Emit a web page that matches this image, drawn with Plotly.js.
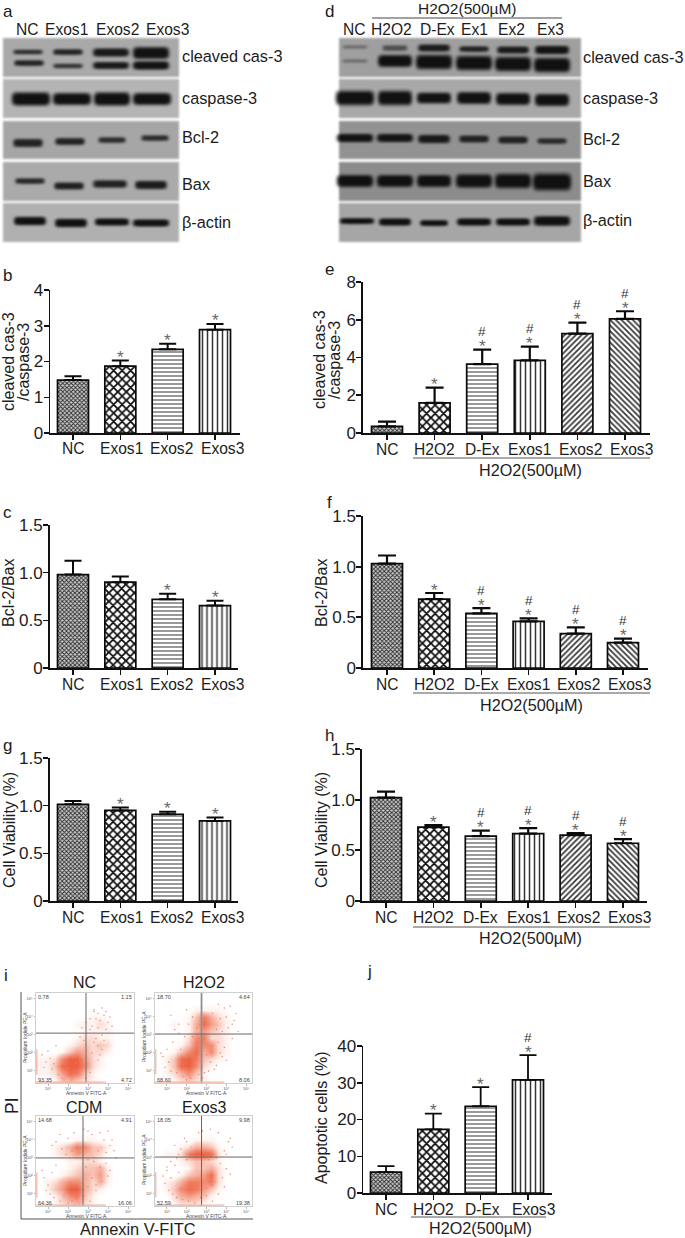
<!DOCTYPE html>
<html><head><meta charset="utf-8">
<script src="https://cdn.plot.ly/plotly-3.0.1.min.js"></script>
<style>html,body{margin:0;padding:0;background:#fff}
.layer-below .shapelayer{filter:blur(0.9px)}</style></head>
<body><div id="chart" style="width:685px;height:1238px"></div>
<script>
// ---------- data ----------
var labels4 = ['NC','Exos1','Exos2','Exos3'];
var labels6 = ['NC','H2O2','D-Ex','Exos1','Exos2','Exos3'];
var labelsJ = ['NC','H2O2','D-Ex','Exos3'];

var valuesB = [1.48,1.87,2.34,2.89];       var errTopB = [1.59,2.03,2.50,3.05];
var starsB  = ['','*','*','*'];
var valuesC = [0.98,0.90,0.72,0.655];      var errTopC = [1.125,0.96,0.78,0.705];
var starsC  = ['','','*','*'];
var valuesG = [1.015,0.95,0.91,0.84];      var errTopG = [1.05,0.98,0.935,0.875];
var starsG  = ['','*','*','*'];
var valuesE = [0.35,1.60,3.65,3.85,5.27,6.05]; var errTopE = [0.60,2.40,4.42,4.58,5.85,6.45];
var starsE  = ['','*','*#','*#','*#','*#'];
var valuesF = [1.03,0.68,0.54,0.46,0.34,0.25]; var errTopF = [1.11,0.74,0.59,0.49,0.40,0.29];
var starsF  = ['','*','*#','*#','*#','*#'];
var valuesH = [1.02,0.73,0.64,0.665,0.65,0.57]; var errTopH = [1.08,0.75,0.695,0.72,0.67,0.61];
var starsH  = ['','*','*#','*#','*#','*#'];
var valuesJ = [5.7,17.3,23.6,30.8];        var errTopJ = [7.3,21.6,28.8,37.5];
var starsJ  = ['','*','*','*#'];

var blotNamesA = ['cleaved cas-3','caspase-3','Bcl-2','Bax','β-actin'];
var blotLanesA = ['NC','Exos1','Exos2','Exos3'];
var blotLanesD = ['NC','H2O2','D-Ex','Ex1','Ex2','Ex3'];
// band intensity per lane, read by eye (0..1)
var bandsAcleavedUpper = [0.6,0.7,0.85,0.95];
var bandsAcleavedLower = [0.7,0.55,0.85,0.95];
var bandsAcaspase      = [1,1,1,1];
var bandsABcl          = [0.7,0.7,0.6,0.6];
var bandsABax          = [0.65,0.75,0.75,0.8];
var bandsAactin        = [1,1,1,1];
var bandsDcleavedUpper = [0.2,0.35,0.8,0.7,0.8,0.95];
var bandsDcleavedLower = [0.2,1,1,1,1,1];
var bandsDcaspase      = [1,1,1,1,1,1];
var bandsDBcl          = [0.95,0.9,0.85,0.7,0.7,0.6];
var bandsDBax          = [1,1,1,1,1,1];
var bandsDactin        = [1,1,1,1,1,1];

// Annexin/PI event density, estimated per decade cell (0..9), top row first
var flowX = [0.59,0.97,1.34,1.72,2.10,2.47,2.85,3.23,3.60,3.98,4.36,4.73,5.11];
var flowY = [5.14,4.76,4.37,3.99,3.60,3.22,2.83,2.45,2.06,1.68,1.29,0.91,0.52];
var flowNC = [
 [0,0,0,0,0,0,0,0,0,0,0,0,0],[0,0,0,0,0,0,0,0,0,0,0,0,0],[0,0,0,0,0,0,0,0,0,0,0,0,0],
 [0,0,0,0,0,0,0,1,1,0,0,0,0],[0,0,0,0,0,1,1,1,2,1,0,0,0],[0,0,0,0,0,0,1,1,1,1,0,0,0],
 [0,0,0,0,0,1,2,2,1,1,0,0,0],[0,0,0,0,1,2,3,2,3,2,0,0,0],[0,0,0,1,3,5,4,2,2,1,0,0,0],
 [1,1,2,6,9,9,5,2,1,0,0,0,0],[1,1,3,8,9,9,6,2,1,0,0,0,0],[1,1,2,5,8,7,3,1,0,0,0,0,0],
 [0,0,1,3,4,3,2,1,0,0,0,0,0]];
var flowH2O2 = [
 [0,0,0,0,0,0,0,0,0,0,0,0,0],[0,0,0,0,0,0,0,0,0,0,0,0,0],[0,0,0,0,0,1,1,1,1,0,0,0,0],
 [0,0,0,0,1,3,7,4,2,1,0,0,0],[0,0,1,0,1,4,8,5,3,1,0,0,0],[0,0,0,0,1,4,5,3,2,1,0,0,0],
 [0,0,0,0,2,6,7,2,2,1,0,0,0],[0,0,0,1,3,7,6,6,2,1,0,0,0],[0,0,1,3,6,8,4,6,2,1,0,0,0],
 [0,1,3,8,9,7,3,2,1,0,0,0,0],[0,1,3,8,9,6,2,1,0,0,0,0,0],[0,1,2,4,6,3,1,0,0,0,0,0,0],
 [0,0,1,2,3,2,1,0,0,0,0,0,0]];
var flowCDM = [
 [0,0,0,0,0,0,0,0,0,0,0,0,0],[0,0,0,0,0,0,0,0,0,0,0,0,0],[0,0,0,0,0,0,0,0,0,0,0,0,0],
 [0,0,0,0,0,1,1,1,0,0,0,0,0],[0,0,1,2,4,7,6,3,3,1,0,0,0],[0,0,1,2,3,5,4,3,2,0,0,0,0],
 [0,0,0,0,1,1,2,2,1,0,0,0,0],[0,0,0,0,1,2,3,3,4,1,0,0,0],[0,0,0,1,2,3,4,3,5,1,0,0,0],
 [0,1,2,4,6,6,4,2,4,1,0,0,0],[0,1,3,5,9,9,4,2,1,0,0,0,0],[0,0,1,3,6,7,3,1,0,0,0,0,0],
 [0,0,1,2,3,4,2,1,0,0,0,0,0]];
var flowExos3 = [
 [0,0,0,0,0,0,0,0,0,0,0,0,0],[0,0,0,0,0,0,0,0,0,0,0,0,0],[0,0,0,0,0,0,0,0,0,0,0,0,0],
 [0,0,0,0,0,1,1,1,0,0,0,0,0],[0,0,0,1,2,4,4,3,1,0,0,0,0],[0,1,1,2,7,9,9,8,2,0,0,0,0],
 [0,0,0,1,2,3,3,2,1,0,0,0,0],[0,0,0,0,1,3,3,4,2,0,0,0,0],[0,0,0,1,3,4,5,8,2,0,0,0,0],
 [0,1,2,4,7,7,6,7,2,0,0,0,0],[0,1,3,6,8,7,5,3,1,0,0,0,0],[0,0,2,4,5,4,3,1,0,0,0,0,0],
 [0,0,1,2,2,2,1,0,0,0,0,0,0]];
// sparse outlying events, placed by eye (decades)
var sparseXNC = [3.3,3.5,3.7,3.9,4.1,3.4,3.6,3.8,4.0,4.2,3.2,3.5,3.9,3.1,3.3,3.7,2.7,2.9,3.1,2.6,2.8,3.3,3.5,3.7,3.2,3.6,3.4,0.7,0.9,1.1,1.3,0.8,1.0,1.2,1.5,1.7,2.0,2.3,2.6,2.9,3.1,1.8,2.2,2.6,2.0,3.0,1.4,3.5,2.4,3.8];
var sparseYNC = [4.4,4.2,4.5,4.3,4.0,3.9,3.8,4.1,3.7,3.5,3.5,3.4,3.3,3.9,4.3,3.0,3.4,3.7,3.3,2.9,2.7,2.6,2.4,2.2,2.0,1.9,2.8,1.9,1.5,1.7,1.4,1.2,2.1,1.1,0.8,0.6,0.9,0.7,1.0,0.6,0.9,0.5,0.5,0.8,1.2,1.4,2.4,1.6,1.4,2.7];
var sparseXH2O2 = [1.2,1.6,2.0,2.3,1.4,1.9,3.6,3.9,4.2,4.5,3.7,4.0,4.3,3.5,3.8,4.1,4.4,3.6,3.9,4.3,1.0,0.8,1.1,1.3,0.9,1.2,1.5,1.8,2.2,2.6,2.9,2.4,2.0,3.2,3.5,3.8,3.4,3.7,4.0,2.1,2.5,1.7,0.7,1.6,3.1,2.8,3.3,4.6,3.0,2.3];
var sparseYH2O2 = [4.1,3.6,4.4,4.0,3.3,2.9,4.7,4.5,4.6,4.2,3.9,4.0,3.6,3.3,3.2,3.4,3.8,2.6,2.3,2.8,2.2,1.8,1.5,2.6,1.2,1.0,0.9,0.7,0.6,0.8,0.9,1.2,0.5,1.5,1.3,1.8,1.1,2.0,1.6,3.6,3.4,2.2,2.0,3.1,1.0,0.6,4.2,3.2,1.9,2.9];
var sparseXCDM = [1.4,1.7,2.0,2.2,3.2,3.5,3.8,4.1,4.3,3.6,3.9,4.2,1.6,1.9,2.3,3.0,1.2,2.6,2.8,4.0,3.0,3.3,3.6,3.9,4.1,2.9,3.7,4.0,3.4,2.7,0.8,1.0,1.2,1.4,0.9,1.1,1.3,1.6,2.0,2.4,2.8,3.1,3.4,2.2,2.6,1.8,3.0,3.2,4.4,0.7];
var sparseYCDM = [3.9,3.5,4.1,3.4,4.3,3.4,4.0,3.7,3.4,4.4,3.3,4.0,4.3,3.2,4.4,4.5,3.7,3.3,4.6,4.5,2.9,2.8,2.5,2.7,2.3,2.5,1.7,2.0,1.5,1.6,1.9,1.5,2.2,2.6,1.2,1.0,0.8,0.6,0.5,0.7,0.9,0.6,1.2,0.6,0.5,0.9,1.4,1.9,3.0,2.3];
var sparseXExos3 = [1.4,1.7,2.0,1.6,2.2,1.9,3.9,4.1,4.3,4.0,4.2,2.4,2.8,3.2,3.6,2.6,3.1,3.5,1.0,1.2,1.4,1.6,0.9,1.1,1.3,1.5,1.8,2.1,2.4,2.7,3.0,3.3,3.6,3.9,1.7,2.2,2.6,3.0,3.4,3.8,4.0,0.8,1.0,1.2,3.7,4.2,2.0,2.9,3.3,1.5];
var sparseYExos3 = [3.7,3.5,3.9,3.2,3.6,4.1,3.4,3.9,3.6,3.2,4.1,3.0,4.5,4.6,4.4,4.4,2.9,3.0,2.3,1.9,2.6,2.2,1.6,1.2,1.0,0.8,0.7,0.6,0.5,0.8,0.9,0.6,1.0,1.4,1.3,1.0,1.2,1.3,1.7,1.9,2.4,2.0,2.5,2.8,2.7,2.1,2.9,3.0,1.5,3.0];
var flowTitles = ['NC','H2O2','CDM','Exos3'];
var flowCorners = [['0.78','1.15','93.35','4.72'],['18.70','4.64','68.60','8.06'],
                   ['14.68','4.91','64.36','16.06'],['18.05','9.98','52.59','19.38']];
var flowTickVals = [1,2,3,4,5];
var flowTickText = ['10¹','10²','10³','10⁴','10⁵'];

// ---------- page geometry ----------
var W = 685, H = 1238, FONT = 'Liberation Sans, Arial, sans-serif', INK = '#1c1c1c';
function px(x){return x/W;} function py(y){return 1-y/H;}
var traces = [], shapes = [], annotations = [], layout = {};

function text(x,y,s,size,opt){
  opt = opt||{};
  annotations.push({xref:'paper',yref:'paper',x:px(x),y:py(y),text:s,showarrow:false,
    xanchor:opt.xanchor||'center',yanchor:'middle',textangle:opt.angle||0,
    font:{family:FONT,size:size,color:opt.color||INK},borderpad:0,borderwidth:0});
}
function line(x0,y0,x1,y1,color,w){
  shapes.push({type:'line',xref:'paper',yref:'paper',x0:px(x0),y0:py(y0),x1:px(x1),y1:py(y1),
    line:{color:color,width:w},layer:'above'});
}

// ---------- bar panels ----------
var patNC  = {shape:'x',size:3,solidity:0.5,fgcolor:'#2a2a2a',bgcolor:'#cfcfcf'};
var patChk = {shape:'x',size:6,solidity:0.5,fgcolor:'#0c0c0c',bgcolor:'#ffffff'};
var patH   = {shape:'-',size:4,solidity:0.3,fgcolor:'#555',bgcolor:'#ffffff'};
var patV   = {shape:'|',size:5,solidity:0.3,fgcolor:'#333',bgcolor:'#ffffff'};
var patF   = {shape:'/',size:4,solidity:0.42,fgcolor:'#333',bgcolor:'#ffffff'};
var patB   = {shape:'\\',size:4,solidity:0.42,fgcolor:'#333',bgcolor:'#ffffff'};
var pats4 = [patNC,patChk,patH,patV], pats6 = [patNC,patChk,patH,patV,patF,patB];

function arrOf(pats,k){return pats.map(function(p){return p[k];});}
var axisN = 0;
function barPanel(p){
  axisN++; var n = axisN, xa = 'x'+(n===1?'':n), ya = 'y'+(n===1?'':n);
  var s = (p.cN-p.c0)/(p.labels.length-1);
  traces.push({type:'bar',x:p.labels,y:p.values,width:31/s,xaxis:xa,yaxis:ya,showlegend:false,hoverinfo:'skip',
    marker:{color:'#fff',line:{color:'#0a0a0a',width:1.7},
      pattern:{shape:arrOf(p.pats,'shape'),size:arrOf(p.pats,'size'),solidity:arrOf(p.pats,'solidity'),
               fgcolor:arrOf(p.pats,'fgcolor'),bgcolor:arrOf(p.pats,'bgcolor'),fillmode:'replace'}},
    error_y:{type:'data',symmetric:false,array:p.errTop.map(function(v,i){return v-p.values[i];}),
      arrayminus:p.values.map(function(){return 0;}),width:p.cap,thickness:p.thick,color:'#0a0a0a'}});
  layout['xaxis'+(n===1?'':n)] = {type:'category',categoryorder:'array',categoryarray:p.labels,
    domain:[px(p.axisX),px(p.xEnd)],range:[(p.axisX-p.c0)/s,(p.xEnd-p.c0)/s],anchor:ya,
    showgrid:false,zeroline:false,showline:true,linecolor:'#111',linewidth:p.axisW,
    ticks:'outside',ticklen:5,tickwidth:p.axisW,tickcolor:'#111',showticklabels:false};
  layout['yaxis'+(n===1?'':n)] = {domain:[py(p.base),py(p.top)],range:p.range,anchor:xa,
    showgrid:false,zeroline:false,showline:true,linecolor:'#111',linewidth:p.axisW,
    ticks:'outside',ticklen:5,tickwidth:p.axisW,tickcolor:'#111',ticklabelstandoff:-3,
    tickmode:'array',tickvals:p.tickvals,ticktext:p.ticktext,tickfont:{family:FONT,size:17,color:INK}};
  p.labels.forEach(function(l,i){
    annotations.push({xref:xa,yref:ya,x:l,y:0,yshift:-16,xshift:p.shifts[i],text:l,showarrow:false,
      yanchor:'middle',xanchor:'center',font:{family:FONT,size:15.6,color:INK}});
    var m = p.stars[i];
    if(m.indexOf('*')>=0) annotations.push({xref:xa,yref:ya,x:l,y:p.errTop[i],yshift:3,text:'*',showarrow:false,
      yanchor:'middle',xanchor:'center',font:{family:FONT,size:17,color:'#666'}});
    if(m.indexOf('#')>=0) annotations.push({xref:xa,yref:ya,x:l,y:p.errTop[i],yshift:18,text:'#',showarrow:false,
      yanchor:'middle',xanchor:'center',font:{family:FONT,size:13.5,color:'#333'}});
  });
}
var shift4=[0,1,4,7], shift6=[0,0,0,0,3,6];
var t15={tickvals:[0,0.5,1,1.5],ticktext:['0','0.5','1.0','1.5'],range:[0,1.5]};
function mk(o,extra){for(var k in extra)o[k]=extra[k];return o;}

barPanel(mk({labels:labels4,values:valuesB,errTop:errTopB,stars:starsB,pats:pats4,shifts:shift4,c0:73,cN:215,axisX:50,xEnd:240,top:290,base:433,cap:8.5,thick:2,axisW:1.5},
  {range:[0,4],tickvals:[0,1,2,3,4],ticktext:['0','1','2','3','4']}));
barPanel(mk({labels:labels4,values:valuesC,errTop:errTopC,stars:starsC,pats:pats4,shifts:shift4,c0:73,cN:215,axisX:49.5,xEnd:238,top:525,base:668,cap:8.5,thick:2,axisW:1.5},t15));
barPanel(mk({labels:labels4,values:valuesG,errTop:errTopG,stars:starsG,pats:pats4,shifts:shift4,c0:73,cN:215,axisX:49.5,xEnd:238,top:758,base:901,cap:8.5,thick:2,axisW:1.5},t15));
barPanel(mk({labels:labels6,values:valuesE,errTop:errTopE,stars:starsE,pats:pats6,shifts:shift6,c0:387,cN:625,axisX:363,xEnd:650,top:282,base:433,cap:9,thick:2.2,axisW:1.7},
  {range:[0,8],tickvals:[0,2,4,6,8],ticktext:['0','2','4','6','8']}));
barPanel(mk({labels:labels6,values:valuesF,errTop:errTopF,stars:starsF,pats:pats6,shifts:shift6,c0:387,cN:623,axisX:363,xEnd:648,top:516,base:668,cap:9,thick:2.2,axisW:1.7},t15));
barPanel(mk({labels:labels6,values:valuesH,errTop:errTopH,stars:starsH,pats:pats6,shifts:shift6,c0:386,cN:623,axisX:362,xEnd:647,top:749,base:901,cap:9,thick:2.2,axisW:1.7},t15));
barPanel(mk({labels:labelsJ,values:valuesJ,errTop:errTopJ,stars:starsJ,pats:pats4,shifts:[0,0,2,5],c0:386,cN:528,axisX:363,xEnd:552,top:1046,base:1193,cap:8.5,thick:1.8,axisW:1.5},
  {range:[0,40],tickvals:[0,10,20,30,40],ticktext:['0','10','20','30','40']}));

// y axis titles
text(8,362,'cleaved cas-3',16,{angle:-90}); text(23,362,'/caspase-3',16,{angle:-90});
text(8,593,'Bcl-2/Bax',16,{angle:-90});
text(9,830,'Cell Viability (%)',16,{angle:-90});
text(320,360,'cleaved cas-3',16,{angle:-90}); text(335,360,'/caspase-3',16,{angle:-90});
text(321,593,'Bcl-2/Bax',16,{angle:-90});
text(321,830,'Cell Viability (%)',16,{angle:-90});
text(321,1118,'Apoptotic cells (%)',16,{angle:-90});

// H2O2(500µM) brackets
[[413,650,458,530,470],[413,650,693,531,705],[413,650,927,530,938],[411,546,1217,480,1228]].forEach(function(b){
  line(b[0],b[2],b[1],b[2],'#555',1); text(b[3],b[4],'H2O2(500µM)',16.2);
});

// panel letters
[['a',8,11],['b',8,275],['c',8,512],['g',8,746],['d',329,11],['e',329,269],['f',329,502],['h',329,735],['i',6,975],['j',369,971]]
  .forEach(function(l){text(l[1],l[2],l[0],17);});

// ---------- western blots ----------
function bg(x0,x1,y0,y1,c){shapes.push({type:'rect',xref:'paper',yref:'paper',x0:px(x0),x1:px(x1),y0:py(y1),y1:py(y0),
  fillcolor:c,line:{width:0},layer:'below'});}
var blur=[[1.45,0.25],[1.22,0.35],[1.05,0.55],[0.85,0.85]];
function band(cx,cy,rx,ry,d){
  blur.forEach(function(b){
    var a=rx*(0.65+0.35*b[0]), e=ry*b[0];
    var L=px(cx-a), R=px(cx+a), L1=px(cx-a*0.55), R1=px(cx+a*0.55), L2=px(cx-a*0.85), R2=px(cx+a*0.85);
    var T=py(cy-e), B=py(cy+e), C=py(cy);
    shapes.push({type:'path',xref:'paper',yref:'paper',
      path:'M '+L+','+C+' C '+L+','+T+' '+L2+','+T+' '+L1+','+T+' L '+R1+','+T+' C '+R2+','+T+' '+R+','+T+' '+R+','+C+
           ' C '+R+','+B+' '+R2+','+B+' '+R1+','+B+' L '+L1+','+B+' C '+L2+','+B+' '+L+','+B+' '+L+','+C+' Z',
      fillcolor:'#0c0c0c',opacity:b[1]*d,line:{width:0},layer:'below'});
  });
}
function row(vals,cx,cy,rx,ry){vals.forEach(function(v,i){band(cx[i],cy[i],rx[i],ry[i],v);});}

var rowsY=[[38,77],[79,118],[121,159],[162,201],[203,242]];
var bgA=['#a9a9a9','#b4b4b4','#a6a6a6','#aaaaaa','#b0b0b0'];
var bgD=['#9f9f9f','#a8a8a8','#929292','#8c8c8c','#a6a6a6'];
rowsY.forEach(function(r,i){bg(3,179,r[0],r[1],bgA[i]); bg(339,581,r[0],r[1],bgD[i]);});

row(bandsAcleavedUpper,[28,68,111,151],[52,52,52.5,53],[14,14,17,17],[2,2.5,3.5,5]);
row(bandsAcleavedLower,[29,68,111,151],[63,66,65.5,65.5],[14,14,17,17],[2.5,2,3,3.5]);
row(bandsAcaspase,[31,72,112,152],[99,99,99,99],[18,18,17,18],[5.5,5,5.5,5]);
row(bandsABcl,[28,70,112,155],[143,141.5,140,138],[14,14,13,13],[3.5,3,2.5,2.5]);
row(bandsABax,[30,69,110,151],[181,186,184,185],[14,14,16,15],[2.5,3,3.2,3.5]);
row(bandsAactin,[30,71,112,151],[221,223,222,223],[15,15,16,17],[3.5,3.5,3,3]);

var lx=[355,395,434,474,513,552];
row(bandsDcleavedUpper,lx,[47,48,48,49,50,50],[12,12,15,14,15,16],[1.5,2.5,3,2.5,3,3.5]);
row(bandsDcleavedLower,lx,[61,61,62,63,64,65],[12,16,17,17,17,17],[1.5,5,6,6,6,6]);
row(bandsDcaspase,lx,[98,98,98,98,99,100],[18,16,16,16,16,16],[6,6,4.5,5,5,5]);
row(bandsDBcl,lx,[138,138,139,139,140,141],[17,17,15,14,14,14],[3.5,3.5,3.5,3,3,2.5]);
row(bandsDBax,lx,[181,181,181,181,181,182],[17,17,16,17,17,18],[5,5,5,5.5,6,7]);
row(bandsDactin,[357,395,434,474,513,552],[221,222,223,222,222,221],[16,15,13,16,16,17],[2.5,3,2.5,3,3,4]);

// blot lane labels
var laneXA=[27,66,117,167], laneXD=[354,392,437,474,512,550];
blotLanesA.forEach(function(l,i){text(laneXA[i],29,l,15.6);});
blotLanesD.forEach(function(l,i){text(laneXD[i],30,l,15.6);});
text(467,9,'H2O2(500µM)',15.5); line(372,18,562,18,'#444',1);
var nameYA=[56,98,137,184,222], nameYD=[57,98,139,181,220];
blotNamesA.forEach(function(n,i){text(182,nameYA[i],n,16.3,{xanchor:'left'}); text(583,nameYD[i],n,16.3,{xanchor:'left'});});

// ---------- flow cytometry ----------
var flowCS=[[0,'#ffffff'],[0.11,'#fef3ef'],[0.22,'#fbdcd3'],[0.33,'#f8c3b5'],[0.56,'#f49b85'],[0.78,'#f07a5e'],[1,'#ec5f42']];
var flowData=[flowNC,flowH2O2,flowCDM,flowExos3];
var sparseX=[sparseXNC,sparseXH2O2,sparseXCDM,sparseXExos3], sparseY=[sparseYNC,sparseYH2O2,sparseYCDM,sparseYExos3];
var flowBox=[[36,134,993,1083,2.9,3.1],[155,252,993,1083,2.75,3.05],[36,134,1116,1206,2.75,3.0],[155,252,1116,1206,2.75,3.05]];
var XR=[0.4,5.3], YR=[0.33,5.33];
flowData.forEach(function(z,i){
  axisN++; var n=axisN, xa='x'+n, ya='y'+n, b=flowBox[i];
  traces.push({type:'heatmap',x:flowX,y:flowY,z:z,zmin:0,zmax:9,zsmooth:'best',colorscale:flowCS,showscale:false,
    hoverinfo:'skip',xaxis:xa,yaxis:ya});
  traces.push({type:'scatter',mode:'markers',x:sparseX[i],y:sparseY[i],marker:{size:1.4,color:'#e4806a'},
    hoverinfo:'skip',showlegend:false,xaxis:xa,yaxis:ya});
  layout['xaxis'+n]={domain:[px(b[0]),px(b[1])],range:XR,anchor:ya,showgrid:false,zeroline:false,showline:true,mirror:true,
    linecolor:'#d0d0d0',linewidth:1,ticks:'outside',ticklen:1.5,tickcolor:'#888',tickwidth:0.6,tickmode:'array',
    tickvals:flowTickVals,ticktext:flowTickText,tickfont:{family:FONT,size:4,color:'#555'}};
  layout['yaxis'+n]={domain:[py(b[3]),py(b[2])],range:YR,anchor:xa,showgrid:false,zeroline:false,showline:true,mirror:true,
    linecolor:'#d0d0d0',linewidth:1,ticks:'outside',ticklen:1.5,tickcolor:'#888',tickwidth:0.6,tickmode:'array',
    tickvals:flowTickVals,ticktext:flowTickText,tickfont:{family:FONT,size:4,color:'#555'}};
  shapes.push({type:'line',xref:xa,yref:ya,x0:b[4],x1:b[4],y0:YR[0],y1:YR[1],line:{color:i===1?'#8f8f8f':'#666',width:i===1?1.8:1},layer:'above'});
  shapes.push({type:'line',xref:xa,yref:ya,x0:XR[0],x1:XR[1],y0:b[5],y1:b[5],line:{color:'#666',width:1},layer:'above'});
  shapes.push({type:'line',xref:xa,yref:ya,x0:XR[0],x1:3.9,y0:0.38,y1:0.38,line:{color:'#f3b3a3',width:1.2},layer:'above'});
  shapes.push({type:'line',xref:xa,yref:ya,x0:0.44,x1:0.44,y0:0.8,y1:2.2,line:{color:'#f3b3a3',width:1.2},layer:'above'});
  var c=flowCorners[i];
  text(b[0]+2,b[2]+4,c[0],5.5,{xanchor:'left',color:'#444'});
  text(b[1]-2,b[2]+4,c[1],5.5,{xanchor:'right',color:'#444'});
  text(b[0]+2,b[3]-3,c[2],5.5,{xanchor:'left',color:'#444'});
  text(b[1]-2,b[3]-3,c[3],5.5,{xanchor:'right',color:'#444'});
  text(b[0]+51,b[3]+10,'Annexin V FITC-A',5,{color:'#444'});
  text(b[0]-11,b[2]+44,'Propidium Iodide PE-A',5,{angle:-90,color:'#444'});
  text(i%2?204:84,i<2?982:1107,flowTitles[i],16);
});
line(21,992,21,1219,'#555',1); line(21,1219,253,1219,'#555',1);
text(12,1106,'PI',17.5,{angle:-90});
text(138,1229,'Annexin V-FITC',16.4);

layout.width=W; layout.height=H;
layout.margin={l:0,r:0,t:0,b:0,pad:0};
layout.paper_bgcolor='#fff'; layout.plot_bgcolor='rgba(0,0,0,0)';
layout.showlegend=false; layout.bargap=0;
layout.font={family:FONT,color:INK};
layout.shapes=shapes; layout.annotations=annotations;
Plotly.newPlot('chart',traces,layout,{staticPlot:true,displayModeBar:false});
</script></body></html>
